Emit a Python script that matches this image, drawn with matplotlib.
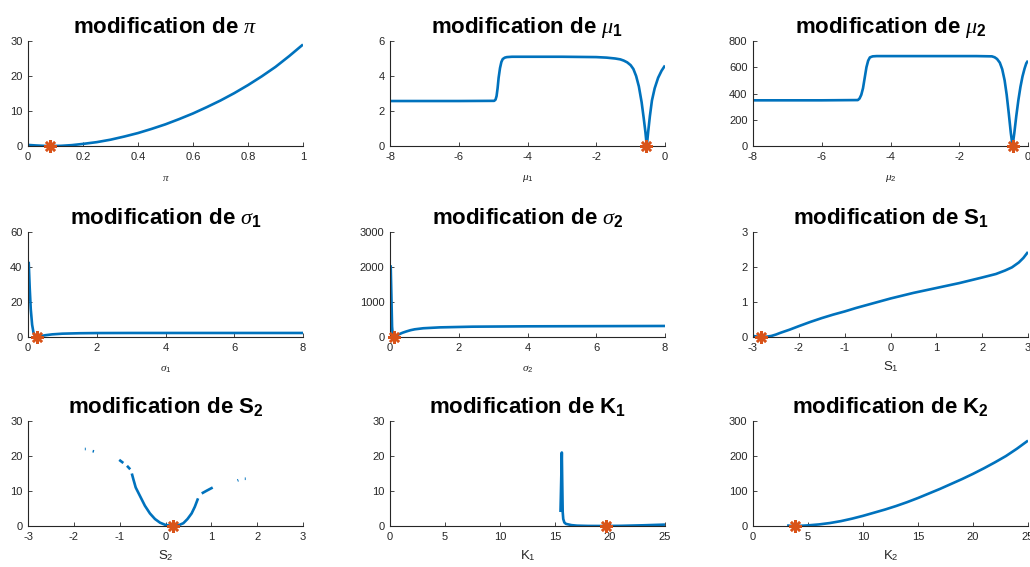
import numpy as np
import matplotlib
matplotlib.use("Agg")
import matplotlib.pyplot as plt

plt.rcParams['font.family'] = ['Liberation Sans', 'DejaVu Sans']
plt.rcParams['mathtext.fontset'] = 'custom'
plt.rcParams['mathtext.rm'] = 'Liberation Sans'
plt.rcParams['mathtext.it'] = 'Liberation Serif:italic'
plt.rcParams['mathtext.bf'] = 'Liberation Sans:bold'
plt.rcParams['axes.unicode_minus'] = False

nan = np.nan

# pi
pi_x = [0, 0.03, 0.06, 0.085, 0.12, 0.16, 0.2, 0.25, 0.3, 0.35, 0.4, 0.45, 0.5, 0.55, 0.6, 0.65, 0.7, 0.75, 0.8, 0.85, 0.9, 0.95, 1.0]
pi_y = [0.3, 0.15, 0.03, 0.0, 0.05, 0.25, 0.6, 1.1, 1.8, 2.7, 3.7, 4.9, 6.2, 7.7, 9.3, 11.1, 13.0, 15.1, 17.4, 19.9, 22.6, 25.7, 29.0]
pi_opt = (0.081, 0.0)

# mu_1
mu1_x = [-8, -6, -4.97, -4.93, -4.9, -4.87, -4.84, -4.8, -4.76, -4.72, -4.66, -4.6, -4.45, -3, -2, -1.7, -1.45, -1.3,
         -1.2, -1.1, -1.0, -0.92, -0.84, -0.76, -0.68, -0.62, -0.57, -0.53, -0.49, -0.44, -0.38, -0.3, -0.2, -0.1, 0.0]
mu1_y = [2.57, 2.57, 2.58, 2.65, 2.85, 3.3, 3.9, 4.45, 4.8, 4.97, 5.05, 5.08, 5.1, 5.1, 5.08, 5.05, 5.0, 4.95,
         4.88, 4.78, 4.62, 4.4, 4.0, 3.4, 2.5, 1.6, 0.8, 0.0, 0.8, 1.7, 2.6, 3.3, 3.9, 4.3, 4.6]
mu1_opt = (-0.54, 0.0)

# mu_2
mu2_x = [-8, -6, -4.95, -4.9, -4.85, -4.8, -4.75, -4.7, -4.65, -4.6, -4.52, -4.4, -3, -1.5, -1.05, -0.97, -0.9, -0.82,
         -0.75, -0.68, -0.62, -0.56, -0.5, -0.45, -0.4, -0.34, -0.28, -0.22, -0.16, -0.1, -0.05, 0.0]
mu2_y = [348, 348, 350, 362, 390, 440, 520, 600, 650, 675, 683, 685, 685, 685, 683, 676, 663, 635,
         585, 500, 390, 250, 100, 0, 95, 230, 350, 450, 530, 590, 630, 650]
mu2_opt = (-0.45, 0.0)

# sigma_1
sig1_x = [0.02, 0.05, 0.08, 0.12, 0.16, 0.2, 0.25, 0.3, 0.4, 0.5, 0.7, 1.0, 1.5, 2.0, 3.0, 4.0, 6.0, 8.0]
sig1_y = [43, 28, 16, 7, 2.5, 0.6, 0.0, 0.15, 0.6, 1.0, 1.5, 1.9, 2.15, 2.25, 2.3, 2.3, 2.3, 2.3]
sig1_opt = (0.25, 0.0)

# sigma_2
sig2_x = [0.02, 0.04, 0.06, 0.08, 0.12, 0.18, 0.24, 0.36, 0.48, 0.6, 0.72, 0.97, 1.45, 2.4, 4.0, 6.0, 8.0]
sig2_y = [2050, 1200, 300, 50, 0, 30, 67, 120, 160, 195, 220, 250, 275, 295, 305, 310, 315]
sig2_opt = (0.12, 0.0)

# S_1
s1_x = [-3, -2.9, -2.82, -2.7, -2.6, -2.5, -2.4, -2.2, -2, -1.75, -1.5, -1.25, -1, -0.75, -0.5, -0.25, 0, 0.5, 1, 1.5,
        2, 2.3, 2.5, 2.65, 2.8, 2.9, 3.0]
s1_y = [0.03, 0.01, 0.0, 0.01, 0.03, 0.07, 0.12, 0.21, 0.31, 0.43, 0.54, 0.64, 0.73, 0.83, 0.92, 1.01, 1.1, 1.26, 1.4, 1.54,
        1.7, 1.8, 1.9, 1.99, 2.13, 2.26, 2.43]
s1_opt = (-2.83, 0.0)

# S_2 (solver failures left as gaps)
s2_x = [-1.76, -1.74, nan, -1.59, -1.56, nan, -1.01, -0.92, nan, -0.84, -0.77, nan,
        -0.735, -0.7, -0.65, -0.55, -0.45, -0.34, -0.23, -0.12, 0.0, 0.16, 0.3, 0.39, 0.48, 0.57, 0.64, 0.71, nan,
        0.79, 0.9, 1.03, nan, 1.57, 1.59, nan, 1.73, 1.75]
s2_y = [22.0, 22.0, nan, 21.4, 21.3, nan, 18.9, 18.0, nan, 17.2, 16.2, nan,
        15.0, 13.3, 11.0, 8.4, 5.8, 3.6, 2.0, 0.95, 0.3, 0.0, 0.3, 0.8, 2.0, 3.6, 5.5, 7.9, nan,
        9.3, 10.1, 11.0, nan, 13.0, 13.1, nan, 13.5, 13.5]
s2_opt = (0.16, 0.0)

# K_1
k1_x = [15.5, 15.62, 15.66, 15.7, 15.75, 15.85, 16.0, 16.5, 17, 18, 19.6, 21, 23, 25]
k1_y = [4.0, 21.0, 12.0, 4.0, 2.0, 1.0, 0.6, 0.25, 0.1, 0.02, 0.0, 0.05, 0.2, 0.4]
k1_opt = (19.6, 0.0)

# K_2
k2_x = [3.1, 3.4, 3.8, 4.2, 5, 6, 7, 8, 9, 10, 11, 12, 13, 14, 15, 16, 17, 18, 19, 20, 21, 22, 23, 24, 25]
k2_y = [1.5, 0.5, 0.0, 0.3, 1.8, 4.5, 8.5, 14, 21, 29, 38, 47, 57, 68, 80, 93, 106, 120, 134, 149, 165, 182, 200, 221, 244]
k2_opt = (3.8, 0.0)

titles = [r'modification de $\pi$', r'modification de $\mu_{\mathbf{1}}$', r'modification de $\mu_{\mathbf{2}}$',
          r'modification de $\sigma_{\mathbf{1}}$', r'modification de $\sigma_{\mathbf{2}}$', r'modification de $\mathbf{S}_{\mathbf{1}}$',
          r'modification de $\mathbf{S}_{\mathbf{2}}$', r'modification de $\mathbf{K}_{\mathbf{1}}$', r'modification de $\mathbf{K}_{\mathbf{2}}$']
xlabels = [r'$\pi$', r'$\mu_1$', r'$\mu_2$', r'$\sigma_1$', r'$\sigma_2$', r'$\mathrm{S}_1$', r'$\mathrm{S}_2$', r'$\mathrm{K}_1$', r'$\mathrm{K}_2$']
xlabel_sizes = [8, 8, 8, 8, 8, 9.5, 9.5, 9.5, 9.5]
xlabel_pads = [8, 8, 8, 8, 8, 5, 5, 5, 5]
xs = [pi_x, mu1_x, mu2_x, sig1_x, sig2_x, s1_x, s2_x, k1_x, k2_x]
ys = [pi_y, mu1_y, mu2_y, sig1_y, sig2_y, s1_y, s2_y, k1_y, k2_y]
opts = [pi_opt, mu1_opt, mu2_opt, sig1_opt, sig2_opt, s1_opt, s2_opt, k1_opt, k2_opt]
xlims = [(0, 1), (-8, 0), (-8, 0), (0, 8), (0, 8), (-3, 3), (-3, 3), (0, 25), (0, 25)]
xticks = [np.arange(0, 1.01, 0.2), range(-8, 1, 2), range(-8, 1, 2), range(0, 9, 2), range(0, 9, 2),
          range(-3, 4), range(-3, 4), range(0, 26, 5), range(0, 26, 5)]
xticklabels = [['0', '0.2', '0.4', '0.6', '0.8', '1']] + [None] * 8
ylims = [30, 6, 800, 60, 3000, 3, 30, 30, 300]
ysteps = [10, 2, 200, 20, 1000, 1, 10, 10, 100]

fig = plt.figure(figsize=(10.3, 5.67), dpi=100)
lefts = [28 / 1030, 390 / 1030, 753 / 1030]
bottoms = [1 - 146 / 567, 1 - 337 / 567, 1 - 526 / 567]
w = 275 / 1030
h = 105 / 567
ax_col = '#262626'
blue = (0, 0.447, 0.741)
orange = (0.85, 0.325, 0.098)

for i in range(9):
    r, c = divmod(i, 3)
    ax = fig.add_axes([lefts[c], bottoms[r], w, h])
    ax.plot(xs[i], ys[i], color=blue, lw=1.9, solid_capstyle='butt')
    ax.plot(*opts[i], marker=(8, 2, 0), linestyle='none', color=orange, markersize=9, markeredgewidth=1.8,
            clip_on=False, zorder=5)
    ax.set_xlim(*xlims[i])
    ax.set_ylim(0, ylims[i])
    ax.set_xticks(list(xticks[i]))
    if xticklabels[i] is not None:
        ax.set_xticklabels(xticklabels[i])
    ax.set_yticks(np.arange(0, ylims[i] + 1e-9, ysteps[i]))
    for s in ['top', 'right']:
        ax.spines[s].set_visible(False)
    for s in ['left', 'bottom']:
        ax.spines[s].set_color(ax_col)
        ax.spines[s].set_linewidth(0.8)
    ax.tick_params(direction='in', length=3, width=0.6, colors=ax_col, labelsize=8)
    ax.tick_params(axis='x', pad=4)
    ax.tick_params(axis='y', pad=4)
    ax.set_title(titles[i], fontsize=16, fontweight='bold', pad=6)
    ax.set_xlabel(xlabels[i], fontsize=xlabel_sizes[i], color=ax_col, labelpad=xlabel_pads[i])

fig.savefig('out.png', dpi=100)
